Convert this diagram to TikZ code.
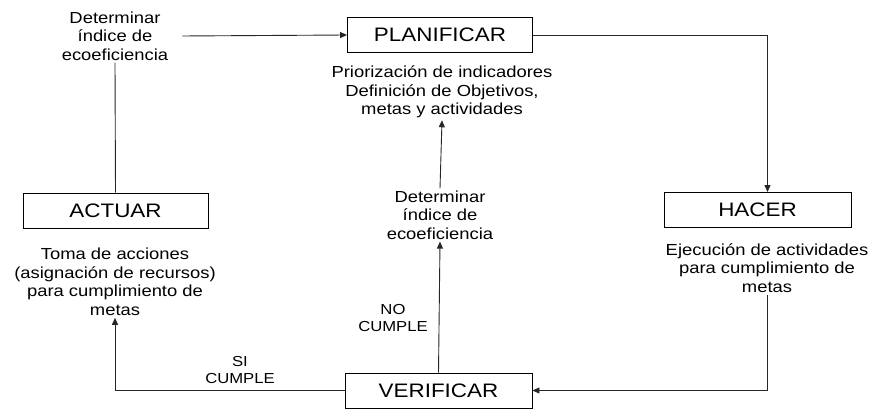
\documentclass[tikz,border=0pt]{standalone}
\usepackage{fontspec}
\setmainfont{Liberation Sans}[FakeStretch=1.15]
\usetikzlibrary{arrows.meta}
\tikzset{
    caja/.style={draw, line width=0.9pt, minimum width=185pt, minimum height=35pt,
        inner sep=0pt, font=\fontsize{19.5}{22}\selectfont},
    texto/.style={align=center, inner sep=2pt, font=\fontsize{16}{18.5}\selectfont},
    nota/.style={align=center, inner sep=1pt, font=\fontsize{14.5}{17}\selectfont},
}

\begin{document}
\begin{tikzpicture}[x=1pt, y=-1pt]
    \useasboundingbox (0,0) rectangle (872,411);

    % Cuadros de las etapas
    \node[caja] (plan) at (440,35) {PLANIFICAR};
    \node[caja] (actuar) at (115.5,210.5) {ACTUAR};
    \node[caja, minimum width=187pt] (hacer) at (757.5,210) {HACER};
    \node[caja, minimum width=187pt] (verif) at (438.5,390.5) {VERIFICAR};

    % Textos de cada etapa
    \node[texto] (tdet1) at (115,36) {Determinar\\ índice de\\ ecoeficiencia};
    \node[texto] (tplan) at (442,92) {Priorización de indicadores\\ Definición de Objetivos,\\ metas y actividades};
    \node[texto] (tdet2) at (440,215) {Determinar\\ índice de\\ ecoeficiencia};
    \node[texto] (tact) at (115,282) {Toma de acciones\\ (asignación de recursos)\\ para cumplimiento de\\ metas};
    \node[texto] (thac) at (767,268) {Ejecución de actividades\\ para cumplimiento de\\ metas};

    % Condiciones
    \node[nota] (si) at (240,370) {SI\\ CUMPLE};
    \node[nota] (no) at (393,318) {NO\\ CUMPLE};

    % Flechas del ciclo
    \begin{scope}[every path/.style={draw=black!85, line width=0.9pt},
        >={Triangle[length=7pt,width=6pt]}]
    \draw [->] ([xshift=12pt]tdet1.east) -- (plan.west);
    \draw (tdet1.south) -- (actuar.north);
    \draw [->] (plan.east) -| ([xshift=10pt]hacer.north);
    \draw [->] (thac.south) |- (verif.east);
    \draw [->] (verif.west) -| (tact.south);
    \draw [->] (verif.north) -- (tdet2.south);
    \draw [->] (tdet2.north) -- (tplan.south);
    \end{scope}

\end{tikzpicture}
\end{document}
